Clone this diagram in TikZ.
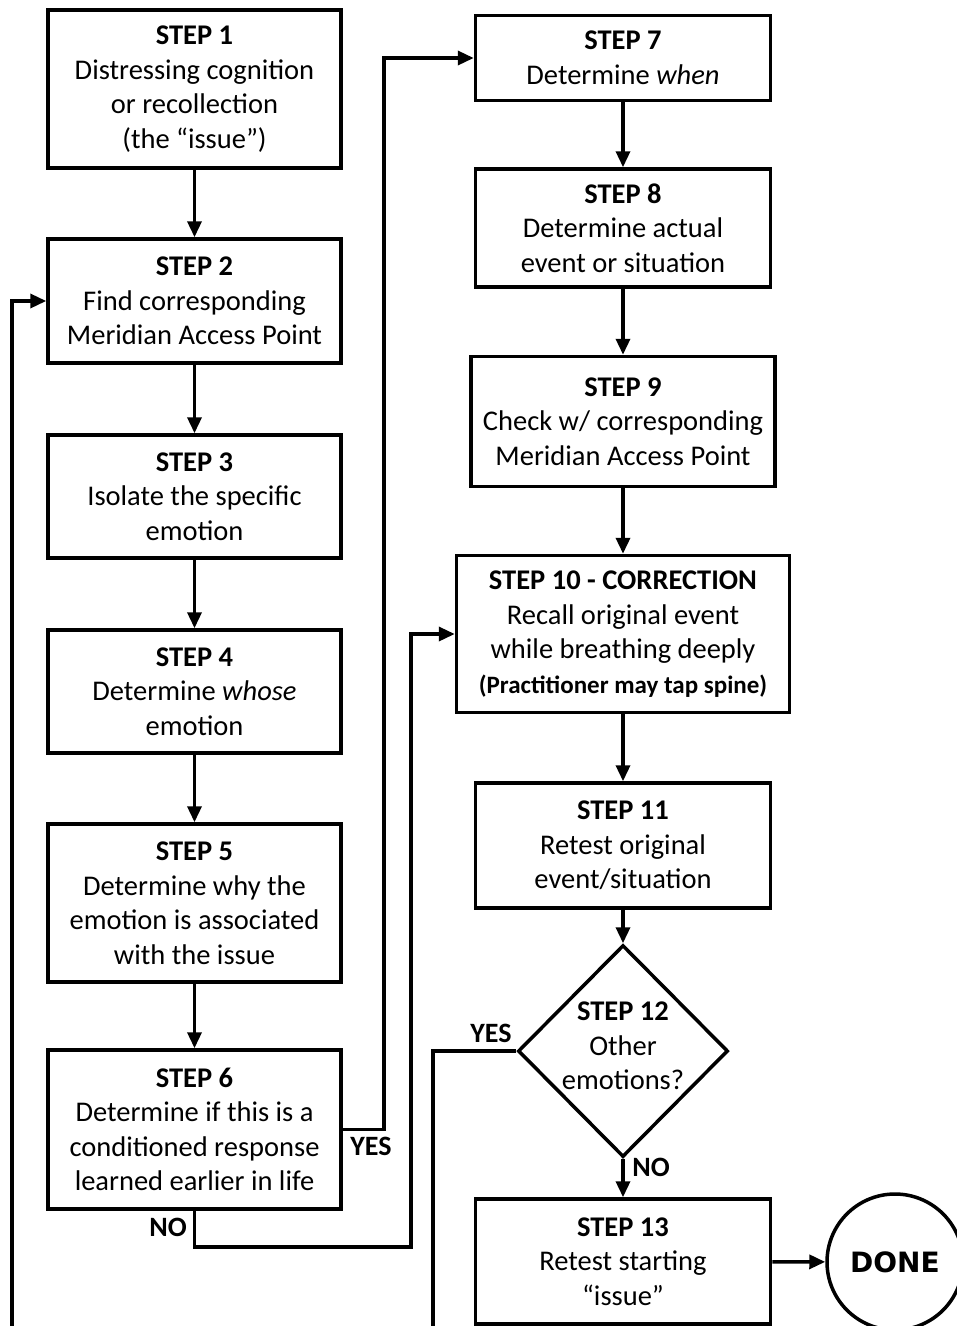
\documentclass[tikz,border=0pt]{standalone}
\usepackage{fontspec}
\setmainfont{Carlito}
\newfontfamily\donefont{DejaVu Sans}
\usetikzlibrary{arrows.meta,shapes.geometric}
\begin{document}
\begin{tikzpicture}[x=1pt,y=-1pt,
 box/.style={draw,line width=3.5pt,align=center,inner sep=0pt,font=\fontsize{28.5}{34.5}\selectfont},
 arr/.style={line width=3.5pt,-{Triangle[length=16pt,width=14pt]}},
 ln/.style={line width=3.5pt},
 lbl/.style={font=\fontsize{28}{30}\selectfont\bfseries,inner sep=0pt}]
\useasboundingbox (0,0) rectangle (957,1326);
\clip (0,0) rectangle (957,1326);
% left column
\node[box,minimum width=293pt,minimum height=158pt] (s1) at (194.5,89) {\textbf{STEP 1}\\Distressing cognition\\or recollection\\(the “issue”)};
\node[box,minimum width=293pt,minimum height=124pt] (s2) at (194.5,301) {\textbf{STEP 2}\\Find corresponding\\Meridian Access Point};
\node[box,minimum width=293pt,minimum height=123pt] (s3) at (194.5,496.5) {\textbf{STEP 3}\\Isolate the specific\\emotion};
\node[box,minimum width=293pt,minimum height=123pt] (s4) at (194.5,691.5) {\textbf{STEP 4}\\Determine \textit{whose}\\emotion};
\node[box,minimum width=293pt,minimum height=158pt] (s5) at (194.5,903) {\textbf{STEP 5}\\Determine why the\\emotion is associated\\with the issue};
\node[box,minimum width=293pt,minimum height=159pt] (s6) at (194.5,1129.5) {\textbf{STEP 6}\\Determine if this is a\\conditioned response\\learned earlier in life};
% right column
\node[box,minimum width=295pt,minimum height=85pt] (s7) at (623,58) {\textbf{STEP 7}\\Determine \textit{when}};
\node[box,minimum width=295pt,minimum height=118pt] (s8) at (623,228) {\textbf{STEP 8}\\Determine actual\\event or situation};
\node[box,minimum width=304pt,minimum height=130pt] (s9) at (623,421.5) {\textbf{STEP 9}\\Check w/ corresponding\\Meridian Access Point};
\node[box,minimum width=333pt,minimum height=157pt] (s10) at (623,634) {\textbf{STEP 10 - CORRECTION}\\Recall original event\\while breathing deeply\\{\fontsize{25}{30}\selectfont\bfseries (Practitioner may tap spine)}};
\node[box,minimum width=295pt,minimum height=125pt] (s11) at (623,845.5) {\textbf{STEP 11}\\Retest original\\event/situation};
\node[draw,diamond,line width=3.5pt,inner sep=0pt,aspect=1,minimum width=210pt,minimum height=212pt] (s12) at (623,1051) {};
\node[align=center,inner sep=0pt,font=\fontsize{28.5}{34.5}\selectfont] (s12t) at (623,1046) {\textbf{STEP 12}\\Other\\emotions?};
\node[box,minimum width=295pt,minimum height=125pt] (s13) at (623,1261.5) {\textbf{STEP 13}\\Retest starting\\“issue”};
\node[draw,circle,line width=3.5pt,inner sep=0pt,minimum size=136pt,font=\donefont\fontsize{28}{30}\selectfont\bfseries] (done) at (895,1262) {DONE};
% coordinates
\coordinate (y1) at (384,0);
\coordinate (n1) at (411,1247);
\coordinate (L) at (12,1340);
\coordinate (R) at (433,1340);
% connectors
\draw[arr] (s1) -- (s2);
\draw[arr] (s2) -- (s3);
\draw[arr] (s3) -- (s4);
\draw[arr] (s4) -- (s5);
\draw[arr] (s5) -- (s6);
\draw[arr] (s7) -- (s8);
\draw[arr] (s8) -- (s9);
\draw[arr] (s9) -- (s10);
\draw[arr] (s10) -- (s11);
\draw[arr] (s11) -- (s12);
\draw[arr] (s12) -- (s13);
\draw[arr] (s13) -- (done);
\draw[arr] (s6.east) -| (y1 |- s7.west) -- (s7.west);
\draw[arr] (s6.south) |- (n1) |- (s10.west);
\draw[arr] (L) |- (s2.west);
\draw[ln] (s12.west) -| (R);
% labels
\node[lbl] (lyes1) at (371,1146) {YES};
\node[lbl] (lno1) at (168,1227) {NO};
\node[lbl] (lyes2) at (491,1033) {YES};
\node[lbl] (lno2) at (651,1167) {NO};
\end{tikzpicture}
\end{document}
